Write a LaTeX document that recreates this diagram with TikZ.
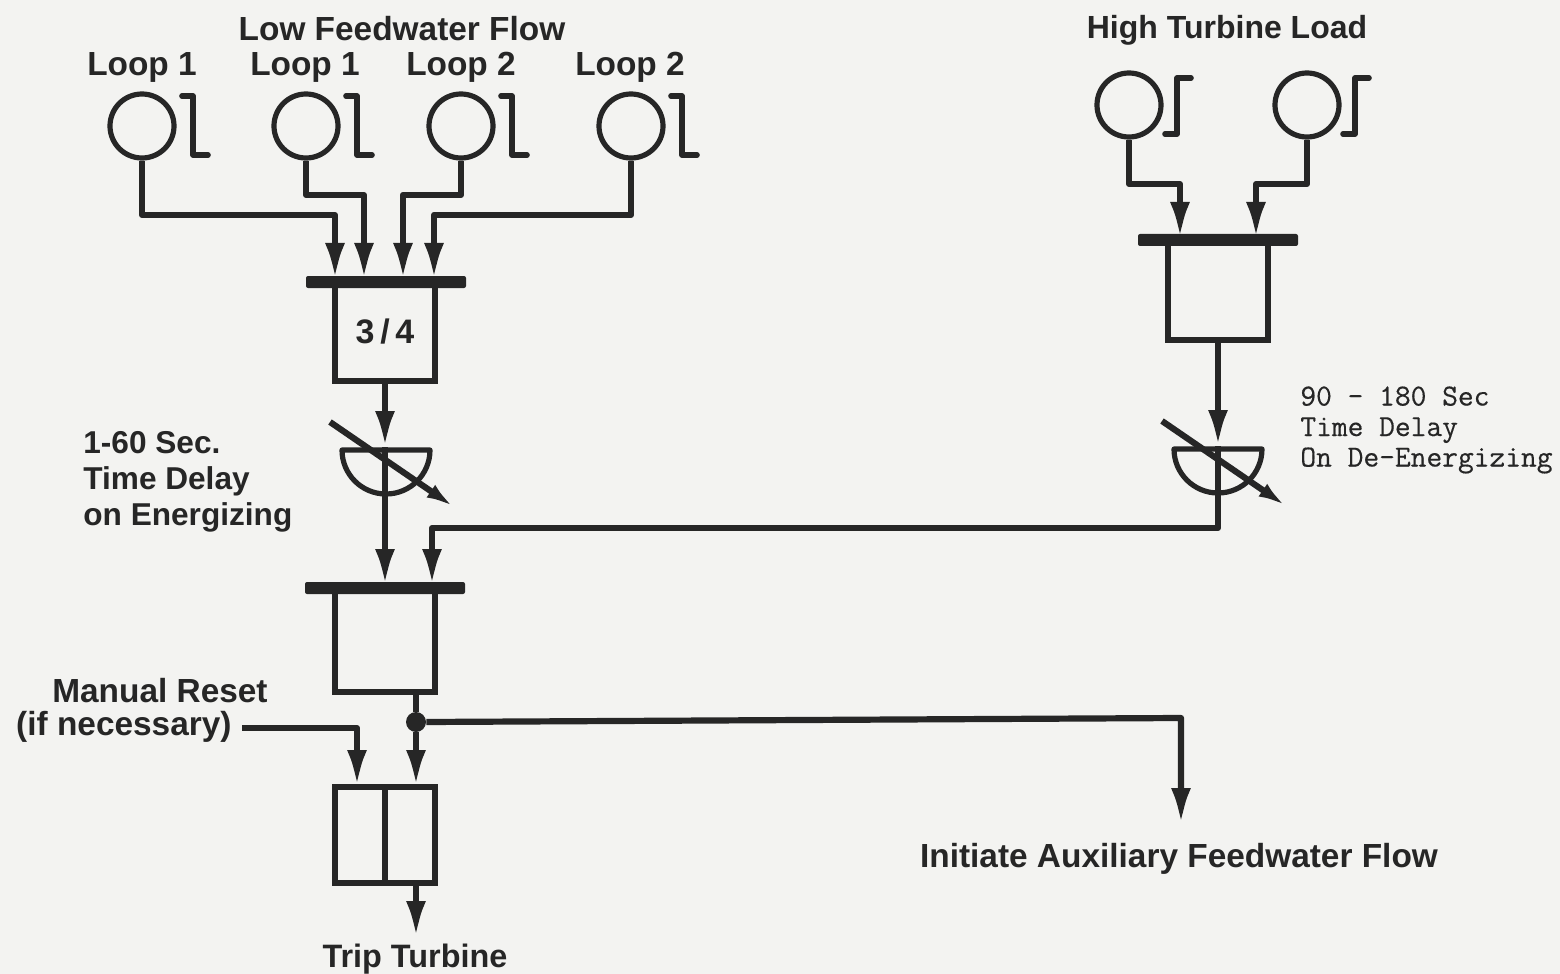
\documentclass[tikz,border=0pt]{standalone}
\usepackage{fontspec}
\setmainfont{Liberation Sans}
\newfontfamily\typedfont[FakeBold=0.4]{Latin Modern Mono}
\usetikzlibrary{arrows.meta}
\definecolor{paper}{HTML}{F3F3F1}
\definecolor{ink}{HTML}{262626}
\tikzset{
wire/.style={draw=ink,line width=3.1pt,line join=round},
arrowed/.style={wire,-{Latex[length=18pt,width=10pt]}},
sensor/.style={circle,draw=ink,line width=2.6pt,minimum size=32pt,inner sep=0pt},
glyph/.style={draw=ink,line width=2.8pt,line cap=round,line join=round},
gate/.style={rectangle,draw=ink,line width=2.6pt,inner sep=0pt,minimum width=50pt,font=\fontsize{17}{18}\selectfont\bfseries,text=ink},
bar/.style={rectangle,fill=ink,inner sep=0pt,minimum width=80pt,minimum height=6pt,rounded corners=1pt},
jointdot/.style={circle,fill=ink,inner sep=0pt,minimum size=10pt},
label/.style={inner sep=0pt,text=ink,font=\fontsize{16.7}{18}\selectfont\bfseries},
typed/.style={inner sep=0pt,text=ink,align=left,font=\fontsize{15.3}{15.25}\typedfont}
}
\begin{document}
\begin{tikzpicture}[x=0.5pt,y=-0.5pt]
\useasboundingbox[fill=paper] (0,0) rectangle (1560,974);
\foreach \name/\x/\y in {loopa/142/126,loopb/306/126,loopc/461/126,loopd/631/126}{
\node[sensor] (\name) at (\x,\y) {};
\draw[glyph] (\x+40,\y-30) -- (\x+51,\y-30) -- (\x+51,\y+29) -- (\x+66,\y+29);
}
\foreach \name/\x/\y in {loade/1129/105,loadf/1307/105}{
\node[sensor] (\name) at (\x,\y) {};
\draw[glyph] (\x+36,\y+29) -- (\x+48,\y+29) -- (\x+48,\y-27) -- (\x+62,\y-27);
}
\node[label] (lowflow) at (402,29) {Low Feedwater Flow};
\node[label,font=\fontsize{16}{18}\selectfont\bfseries] (highload) at (1227,30) {High Turbine Load};
\node[label] (namea) at (142,67) {Loop 1};
\node[label] (nameb) at (305,67) {Loop 1};
\node[label] (namec) at (461,67) {Loop 2};
\node[label] (named) at (630,67) {Loop 2};
\node[bar] (bara) at (386,282) {};
\node[gate,minimum height=49pt] (vote) at (385,332) {3\,/\,4};
\node[bar] (barb) at (1218,240) {};
\node[gate,minimum height=49pt] (gatee) at (1218,291) {};
\node[bar] (barc) at (385,588) {};
\node[gate,minimum height=51pt] (gatec) at (385,641) {};
\node[gate,minimum width=25pt,minimum height=48pt] (tripa) at (360,835) {};
\node[gate,minimum width=25pt,minimum height=48pt] (tripb) at (410,835) {};
\node[jointdot] (joint) at (416,722) {};
\coordinate (ina) at (335,279);
\coordinate (inb) at (364,279);
\coordinate (inc) at (403,279);
\coordinate (ind) at (434,279);
\coordinate (ine) at (1180,238);
\coordinate (inf) at (1256,238);
\coordinate (ing) at (385,447);
\coordinate (inh) at (385,585);
\coordinate (ini) at (432,585);
\coordinate (inj) at (1218,446);
\coordinate (ink) at (357,786);
\coordinate (inl) at (416,786);
\coordinate (out) at (416,937);
\coordinate (aux) at (1181,824);
\coordinate (resetout) at (242,728);
\draw[arrowed] (loopa.south) |- (335,215) -- (ina);
\draw[arrowed] (loopb.south) |- (364,195) -- (inb);
\draw[arrowed] (loopc.south) |- (403,195) -- (inc);
\draw[arrowed] (loopd.south) |- (434,215) -- (ind);
\draw[arrowed] (loade.south) |- (1180,184) -- (ine);
\draw[arrowed] (loadf.south) |- (1256,184) -- (inf);
\draw[arrowed] (vote.south) -- (ing);
\draw[arrowed] (ing) -- (inh);
\draw[arrowed] (gatee.south) -- (inj);
\draw[arrowed] (inj) -- (1218,528) -| (ini);
\draw[wire] (gatec.south -| joint) -- (joint);
\draw[arrowed] (joint) -- (inl);
\draw[arrowed] (joint.east) -- (1181,718) -- (aux);
\node[label,anchor=east] (reset) at (232,727) {(if necessary)};
\node[label] (manual) at (160,691) {Manual Reset};
\draw[arrowed] (resetout) -| (ink);
\draw[arrowed] (tripb.south -| out) -- (out);
\foreach \x/\y in {386/450,1218/449}{
\draw[draw=ink,line width=2.6pt,line join=round] (\x-44,\y) -- (\x+44,\y) arc (0:180:44) -- cycle;
\draw[wire,-{Latex[length=14pt,width=7.5pt]}] (\x-56,\y-28) -- (\x+68,\y+57);
}
\node[label,anchor=west,align=left,font=\fontsize{15.8}{18}\selectfont\bfseries] (delaya) at (83,482) {1-60 Sec.\\Time Delay\\on Energizing};
\node[typed,anchor=west] (delayb) at (1300,430) {90 - 180 Sec\\Time Delay\\On De-Energizing};
\node[label,font=\fontsize{16.2}{18}\selectfont\bfseries] (trip) at (415,959) {Trip Turbine};
\node[label] (initiate) at (1179,859) {Initiate Auxiliary Feedwater Flow};
\end{tikzpicture}
\end{document}
